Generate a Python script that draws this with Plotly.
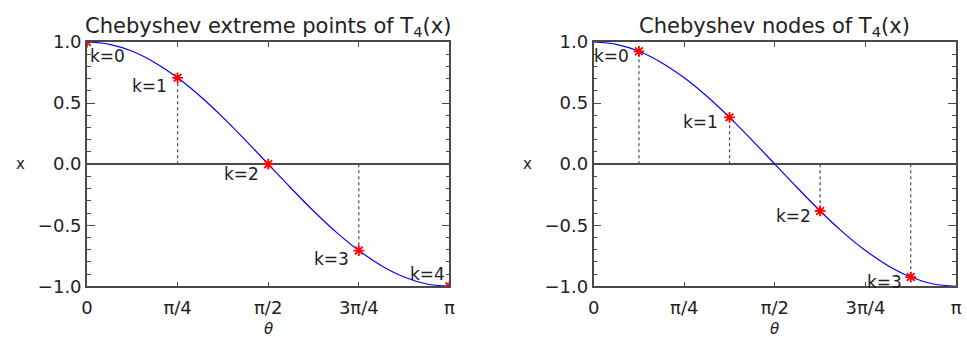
import plotly.graph_objects as go

# Curve x = cos(theta) sampled every pi/16 (theta stored in units of pi)
theta_curve = [0.0, 0.0625, 0.125, 0.1875, 0.25, 0.3125, 0.375, 0.4375, 0.5,
               0.5625, 0.625, 0.6875, 0.75, 0.8125, 0.875, 0.9375, 1.0]
x_curve = [1.000, 0.981, 0.924, 0.831, 0.707, 0.556, 0.383, 0.195, 0.000,
           -0.195, -0.383, -0.556, -0.707, -0.831, -0.924, -0.981, -1.000]

# Extreme points of T4
theta_ext = [0.0, 0.25, 0.5, 0.75, 1.0]
x_ext = [1.000, 0.707, 0.000, -0.707, -1.000]
labels_ext = ["k=0", "k=1", "k=2", "k=3", "k=4"]

# Nodes (zeros) of T4
theta_nod = [0.125, 0.375, 0.625, 0.875]
x_nod = [0.924, 0.383, -0.383, -0.924]
labels_nod = ["k=0", "k=1", "k=2", "k=3"]

xtick_vals = [0.0, 0.25, 0.5, 0.75, 1.0]
xtick_text = ["0", "π/4", "π/2", "3π/4", "π"]
ytick_vals = [-1.0, -0.5, 0.0, 0.5, 1.0]
ytick_text = ["−1.0", "−0.5", "0.0", "0.5", "1.0"]

titles = ["Chebyshev extreme points of T<sub>4</sub>(x)",
          "Chebyshev nodes of T<sub>4</sub>(x)"]

FONT = "DejaVu Sans"
AX = "#4a4a4a"
TXT = "#222222"
W, H = 967, 348

# plot-area pixel boxes
boxes = [(82, 449), (595, 962)]
top_px, bot_px = 33, 293

fig = go.Figure()

panels = [
    (theta_ext, x_ext, labels_ext,
     [(1, -14, "left"), (-9, -8, "right"), (-7, -10, "right"),
      (-8, -8, "right"), (-2, 12, "right")]),
    (theta_nod, x_nod, labels_nod,
     [(-8, -5, "right"), (-10, -5, "right"), (-7, -5, "right"),
      (-7, -5, "right")]),
]

annotations = []
for i, (th, xv, labs, offs) in enumerate(panels):
    xa = "x" if i == 0 else "x2"
    ya = "y" if i == 0 else "y2"
    # blue cosine curve
    fig.add_trace(go.Scatter(x=theta_curve, y=x_curve, mode="lines",
                             line=dict(color="#0000ff", width=1.2, shape="spline"),
                             xaxis=xa, yaxis=ya, showlegend=False, hoverinfo="skip"))
    # dotted drops to the zero line
    for t, v in zip(th, xv):
        if abs(v) < 1e-9 or t in (0.0, 1.0):
            continue
        fig.add_trace(go.Scatter(x=[t, t], y=[0, v], mode="lines",
                                 line=dict(color=AX, width=1.2, dash="dot"),
                                 xaxis=xa, yaxis=ya, showlegend=False, hoverinfo="skip"))
    # red asterisk markers
    fig.add_trace(go.Scatter(x=th, y=xv, mode="markers",
                             marker=dict(symbol="asterisk-open", size=9, color="#ff0000",
                                         line=dict(color="#ff0000", width=1.8)),
                             xaxis=xa, yaxis=ya, showlegend=False, cliponaxis=True,
                             hoverinfo="skip"))
    for t, v, lab, (dx, dy, anc) in zip(th, xv, labs, offs):
        annotations.append(dict(x=t, y=v, xref=xa, yref=ya, text=lab, showarrow=False,
                                xanchor=anc, yanchor="middle", xshift=dx, yshift=dy,
                                font=dict(family=FONT, size=17, color=TXT)))
    x0, x1 = boxes[i]
    cx = (x0 + x1) / 2 / W
    annotations.append(dict(x=cx, y=1 - 17 / H, xref="paper", yref="paper",
                            text=titles[i], showarrow=False, xanchor="center",
                            yanchor="middle",
                            font=dict(family=FONT, size=21, color=TXT)))
    annotations.append(dict(x=cx, y=1 - 338 / H, xref="paper", yref="paper",
                            text="<i>θ</i>", showarrow=False, xanchor="center",
                            yanchor="middle",
                            font=dict(family=FONT, size=15, color=TXT)))
    ylab_x = 15 if i == 0 else 528
    annotations.append(dict(x=ylab_x / W, y=1 - 163 / H, xref="paper", yref="paper",
                            text="x", showarrow=False, xanchor="center",
                            yanchor="middle",
                            font=dict(family=FONT, size=15, color=TXT)))

xaxis_common = dict(range=[0, 1], tickmode="array", tickvals=xtick_vals,
                    ticktext=xtick_text, ticks="inside", ticklen=5, tickwidth=1.3,
                    tickcolor=AX, showline=True, linecolor=AX, linewidth=1.6,
                    mirror="allticks", showgrid=False, zeroline=False,
                    ticklabelstandoff=4,
                    tickfont=dict(family=FONT, size=18, color=TXT))
yaxis_common = dict(range=[-1, 1], tickmode="array", tickvals=ytick_vals,
                    ticktext=ytick_text, ticks="inside", ticklen=8, tickwidth=1.3,
                    tickcolor=AX, showline=True, linecolor=AX, linewidth=1.6,
                    mirror="allticks", showgrid=False, zeroline=True,
                    zerolinecolor=AX, zerolinewidth=1.6,
                    minor=dict(ticks="inside", ticklen=4, dtick=0.1, tick0=0,
                               tickcolor=AX, tickwidth=1.2, showgrid=False),
                    tickfont=dict(family=FONT, size=18, color=TXT))

fig.update_layout(
    width=W, height=H,
    margin=dict(l=0, r=0, t=0, b=0),
    paper_bgcolor="white", plot_bgcolor="white",
    xaxis=dict(domain=[boxes[0][0] / W, boxes[0][1] / W], anchor="y", **xaxis_common),
    yaxis=dict(domain=[1 - bot_px / H, 1 - top_px / H], anchor="x", **yaxis_common),
    xaxis2=dict(domain=[boxes[1][0] / W, boxes[1][1] / W], anchor="y2", **xaxis_common),
    yaxis2=dict(domain=[1 - bot_px / H, 1 - top_px / H], anchor="x2", **yaxis_common),
    annotations=annotations,
    showlegend=False,
)

fig.write_html("out.html")
